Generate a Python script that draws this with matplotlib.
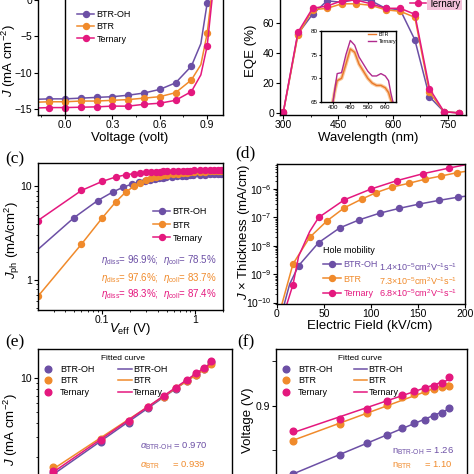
import numpy as np
import matplotlib
matplotlib.use('Agg')
import matplotlib.pyplot as plt
from matplotlib.lines import Line2D
from matplotlib.ticker import MultipleLocator, FuncFormatter, NullFormatter, LogLocator

plt.rcParams['font.family'] = ['Liberation Sans', 'DejaVu Sans']
plt.rcParams['mathtext.fontset'] = 'custom'
plt.rcParams['mathtext.rm'] = 'Liberation Sans'
plt.rcParams['mathtext.it'] = 'Liberation Sans:italic'
plt.rcParams['mathtext.bf'] = 'Liberation Sans:bold'
plt.rcParams['xtick.direction'] = 'out'
plt.rcParams['ytick.direction'] = 'out'
plt.rcParams['xtick.major.size'] = 2.6
plt.rcParams['ytick.major.size'] = 2.6
plt.rcParams['xtick.minor.size'] = 1.5
plt.rcParams['ytick.minor.size'] = 1.5
plt.rcParams['xtick.major.pad'] = 1.3
plt.rcParams['ytick.major.pad'] = 1.5
plt.rcParams['xtick.minor.pad'] = 1.3
plt.rcParams['axes.linewidth'] = 1.0

#------ Data ------#
names = ['BTR-OH', 'BTR', 'Ternary']
colors = ['#6C4FA5', '#F08A2B', '#E4187E']

# (a) J-V curves, markers every 0.1 V
v_mark = [-0.1, 0.0, 0.1, 0.2, 0.3, 0.4, 0.5, 0.6, 0.7, 0.8, 0.9]
j_btroh = [-13.6, -13.6, -13.5, -13.4, -13.3, -13.1, -12.8, -12.3, -11.4, -9.1, -0.4]
j_btr = [-14.0, -14.0, -13.9, -13.9, -13.8, -13.7, -13.5, -13.3, -12.75, -11.0, -4.6]
j_ter = [-14.8, -14.8, -14.75, -14.7, -14.6, -14.6, -14.35, -14.2, -13.8, -12.6, -6.3]
# extra points on the drawn curves (left edge, knee, exit at top)
v_line_ext = [-0.17, 0.86]
j_btroh_ext = [-13.65, -6.0]
j_btr_ext = [-14.05, -8.9]
j_ter_ext = [-14.85, -10.3]
v_top = [0.922, 0.935, 0.94]

# (b) EQE
wl = [300, 340, 380, 420, 460, 500, 540, 580, 620, 660, 700, 740, 780]
eqe_btroh = [0.5, 53, 66, 75, 74, 76, 75, 70, 69, 49, 11, 1, 0.3]
eqe_btr = [0.6, 52, 69, 70, 73, 73, 72, 69, 68, 64, 14, 1, 0.3]
eqe_ter = [0.7, 54, 70, 71.5, 75, 75.5, 73, 70, 70, 66, 16.5, 1, 0.3]
# inset (zoom of the plateau)
ins_wl_btr = [400, 410, 420, 440, 460, 480, 500, 520, 540, 560, 580, 600, 620, 640, 655, 665, 670]
ins_btr = [65, 67.5, 69.5, 70, 73, 76.2, 75.5, 73, 71.5, 70, 69, 68.5, 68.5, 68, 67, 65.5, 65]
ins_wl_ter = [401, 410, 420, 440, 460, 480, 500, 520, 540, 560, 580, 600, 620, 640, 655, 665, 675]
ins_ter = [65, 68, 71, 71.2, 75, 78, 77, 74.5, 73, 71.5, 70.5, 70.5, 71, 70.5, 69.5, 67, 65]

# (c) Jph vs Veff
veff_btroh = [0.0204, 0.05, 0.09, 0.13, 0.17, 0.21, 0.25, 0.29, 0.33, 0.37, 0.41, 0.45, 0.49,
              0.57, 0.65, 0.73, 0.81, 0.89, 0.97, 1.13, 1.29, 1.45, 1.61, 1.77, 1.93]
jph_btroh = [2.13, 4.65, 7.08, 8.7, 9.84, 10.6, 11.1, 11.5, 11.8, 12.0, 12.2, 12.35, 12.5,
             12.7, 12.85, 12.95, 13.05, 13.15, 13.2, 13.3, 13.4, 13.5, 13.55, 13.6, 13.7]
veff_btr = [0.0204, 0.06, 0.10, 0.14, 0.18, 0.22, 0.26, 0.30, 0.34, 0.38, 0.42, 0.46, 0.50,
            0.58, 0.66, 0.74, 0.82, 0.90, 0.98, 1.14, 1.30, 1.46, 1.62, 1.78, 1.94]
jph_btr = [0.673, 2.42, 4.58, 6.8, 8.7, 10.0, 11.0, 11.7, 12.2, 12.6, 12.9, 13.1, 13.3,
           13.55, 13.75, 13.9, 14.0, 14.1, 14.2, 14.3, 14.4, 14.5, 14.55, 14.6, 14.7]
veff_ter = veff_btr
jph_ter = [4.33, 9.06, 11.3, 12.6, 13.3, 13.7, 13.9, 14.1, 14.2, 14.3, 14.4, 14.45, 14.5,
           14.6, 14.65, 14.7, 14.75, 14.8, 14.85, 14.9, 14.95, 15.0, 15.05, 15.1, 15.15]
eta_texts = ['$\\eta_{\\rm diss}$= 96.9%;  $\\eta_{\\rm coll}$= 78.5%',
             '$\\eta_{\\rm diss}$= 97.6%;  $\\eta_{\\rm coll}$= 83.7%',
             '$\\eta_{\\rm diss}$= 98.3%;  $\\eta_{\\rm coll}$= 87.4%']

# (d) SCLC hole-only devices
ef_btroh = [7.8, 13.5, 23, 44.3, 66.7, 87.6, 109.2, 130, 150.7, 172, 192.5, 200]
jt_btroh = [9e-11, 4.5e-10, 2e-9, 1.3e-8, 4.3e-8, 8.3e-8, 1.42e-7, 2.1e-7, 2.95e-7, 4.0e-7, 5.2e-7, 5.6e-7]
mk_btroh = [2, 3, 4, 5, 6, 7, 8, 9, 10]
ef_btr = [5.3, 17, 34.8, 53.2, 71.6, 90.4, 105.7, 122.3, 140, 157.8, 174.5, 191.5, 200]
jt_btr = [9e-11, 2.3e-9, 2.0e-8, 7.6e-8, 2.2e-7, 4.5e-7, 7.6e-7, 1.18e-6, 1.6e-6, 2.25e-6, 2.9e-6, 3.8e-6, 4.2e-6]
mk_btr = [1, 2, 3, 4, 5, 6, 7, 8, 9, 10, 11]
ef_ter = [10.6, 17, 23, 34.8, 44.3, 71.6, 100.4, 127.7, 155.3, 182.6, 200]
jt_ter = [9e-11, 4.3e-10, 4.3e-9, 3.2e-8, 1e-7, 4.2e-7, 1.02e-6, 2e-6, 3.5e-6, 5.5e-6, 7.2e-6]
mk_ter = [1, 4, 5, 6, 7, 8, 9]
mobility = ['1.4×10$^{-5}$cm$^{2}$V$^{-1}$s$^{-1}$',
            '7.3×10$^{-5}$cm$^{2}$V$^{-1}$s$^{-1}$',
            '6.8×10$^{-5}$cm$^{2}$V$^{-1}$s$^{-1}$']

# (e), (f) light-intensity dependence
p_light = [10, 20, 30, 40, 50, 60, 70, 80, 90, 100]
jsc_btroh = [1.45, 2.75, 4.05, 5.45, 6.75, 8.05, 9.4, 10.7, 12.1, 13.7]
jsc_btr = [1.65, 2.9, 4.2, 5.55, 6.8, 8.1, 9.4, 10.7, 12.0, 13.4]
jsc_ter = [1.52, 2.85, 4.2, 5.6, 6.9, 8.2, 9.6, 11.0, 12.3, 14.0]
voc_btroh = [0.8233, 0.8439, 0.8579, 0.8673, 0.8748, 0.8805, 0.8842, 0.888, 0.8918, 0.8974]
voc_btr = [0.8597, 0.8793, 0.8918, 0.9003, 0.9098, 0.9135, 0.9161, 0.9188, 0.9207, 0.9226]
voc_ter = [0.8718, 0.8853, 0.8966, 0.9056, 0.9116, 0.9161, 0.9195, 0.9226, 0.9256, 0.932]
alpha_texts = ['$\\alpha_{\\rm BTR\\text{-}OH}$ = 0.970', '$\\alpha_{\\rm BTR}$     = 0.939']
n_texts = ['n$_{\\rm BTR\\text{-}OH}$ = 1.26', 'n$_{\\rm BTR}$     = 1.10']
#------------------#

W = H = 474
fig = plt.figure(figsize=(4.74, 4.74), dpi=100)

def px_axes(l, t, r, b):
    return fig.add_axes([l / W, 1 - b / H, (r - l) / W, (b - t) / H])

def px2ax(ax, px, py):
    pos = ax.get_position()
    return ((px / W - pos.x0) / pos.width, ((1 - py / H) - pos.y0) / pos.height)

def place_xlabel(ax, text, px, py, fs=9.5):
    ax.set_xlabel(text, fontsize=fs)
    ax.xaxis.set_label_coords(*px2ax(ax, px, py))
    ax.xaxis.label.set_va('center')

def place_ylabel(ax, text, px, py, fs=9.5):
    ax.set_ylabel(text, fontsize=fs)
    ax.yaxis.set_label_coords(*px2ax(ax, px, py))
    ax.yaxis.label.set_va('center')
    ax.yaxis.label.set_ha('center')

plain = FuncFormatter(lambda v, p: '%g' % v)
fs_tick = 7.5
fs_leg = 6.5
ms = 4.3

# (a) J-V
ax1 = px_axes(38, -10, 223, 115)
for jm, je, vt, c, nm in zip([j_btroh, j_btr, j_ter], [j_btroh_ext, j_btr_ext, j_ter_ext],
                             v_top, colors, names):
    vl = [v_line_ext[0]] + v_mark[:-1] + [v_line_ext[1], v_mark[-1], vt]
    jl = [je[0]] + jm[:-1] + [je[1], jm[-1], 2.0]
    ax1.plot(vl, jl, '-', color=c, lw=1.1)
    ax1.plot(v_mark, jm, 'o', color=c, ms=ms, mec=c)
ax1.axvline(0, color='black', lw=1.0)
ax1.set_xlim(-0.17, 1.0)
ax1.set_ylim(-15.82, 1.375)
ax1.xaxis.set_major_locator(MultipleLocator(0.3))
ax1.xaxis.set_minor_locator(MultipleLocator(0.15))
ax1.xaxis.set_major_formatter(FuncFormatter(lambda v, p: '%.1f' % v))
ax1.yaxis.set_major_locator(MultipleLocator(5))
ax1.tick_params(labelsize=fs_tick)
place_xlabel(ax1, 'Voltage (volt)', 130, 138)
place_ylabel(ax1, '$J$ (mA cm$^{-2}$)', 9, 61)
h1 = [Line2D([], [], color=c, marker='o', ms=ms, lw=1.1) for c in colors]
ax1.legend(h1, names, loc='center left', bbox_to_anchor=px2ax(ax1, 77, 27), frameon=False,
           fontsize=fs_leg, borderpad=0, borderaxespad=0, handlelength=1.9,
           handletextpad=0.25, labelspacing=0.35)

# (b) EQE
ax2 = px_axes(280, -10, 466, 115)
for e, c in zip([eqe_btroh, eqe_btr, eqe_ter], colors):
    ax2.plot(wl, e, '-o', color=c, ms=ms, lw=1.1)
ax2.set_xlim(291, 800)
ax2.set_ylim(-1.13, 82.2)
ax2.xaxis.set_major_locator(MultipleLocator(150))
ax2.xaxis.set_minor_locator(MultipleLocator(75))
ax2.yaxis.set_major_locator(MultipleLocator(20))
ax2.tick_params(labelsize=fs_tick)
place_xlabel(ax2, 'Wavelength (nm)', 368, 138)
place_ylabel(ax2, 'EQE (%)', 251, 51)
h2 = [Line2D([], [], color=c, marker='o', ms=ms, lw=1.1) for c in colors]
leg2 = ax2.legend(h2, names, loc='center left', bbox_to_anchor=px2ax(ax2, 410, -9.5),
                  frameon=False, fontsize=fs_leg + 0.5, borderpad=0, borderaxespad=0,
                  handlelength=1.6, handletextpad=0.3, labelspacing=0.35)
leg2.get_texts()[2].set_bbox(dict(facecolor='#F4C2DA', edgecolor='none', pad=1.0))

axin = px_axes(321, 31, 396, 102)
axin.plot(ins_wl_btr, ins_btr, color='#F9C89B', lw=2.6)
axin.plot(ins_wl_btr, ins_btr, color='#E9782A', lw=1.0, label='BTR')
axin.plot(ins_wl_ter, ins_ter, color='#B02A8E', lw=1.0, label='Ternary')
axin.set_xlim(346, 689)
axin.set_ylim(65, 80)
axin.set_xticks([400, 480, 560, 640])
axin.set_yticks([65, 70, 75, 80])
axin.tick_params(labelsize=4.5, length=1.5, pad=1)
axin.legend(loc='center left', bbox_to_anchor=px2ax(axin, 368, 38), frameon=False,
            fontsize=3.8, borderpad=0, borderaxespad=0, handlelength=1.6,
            handletextpad=0.4, labelspacing=0.3)

# (c) Jph vs Veff
ax3 = px_axes(38, 163, 223, 310)
ax3.set_xscale('log')
ax3.set_yscale('log')
ax3.plot(veff_btroh, jph_btroh, '-o', color=colors[0], ms=ms, lw=1.1, markevery=slice(1, None))
ax3.plot(veff_btr, jph_btr, '-o', color=colors[1], ms=ms, lw=1.1)
ax3.plot(veff_ter, jph_ter, '-o', color=colors[2], ms=ms, lw=1.1)
ax3.set_xlim(0.0204, 2.02)
ax3.set_ylim(0.48, 17.8)
for a in (ax3.xaxis, ax3.yaxis):
    a.set_major_formatter(plain)
    a.set_minor_formatter(NullFormatter())
ax3.tick_params(labelsize=fs_tick)
place_xlabel(ax3, '$V_{\\rm eff}$ (V)', 130, 329)
place_ylabel(ax3, '$J_{\\rm ph}$ (mA/cm$^2$)', 12, 240)
h3 = [Line2D([], [], color=c, marker='o', ms=ms, lw=1.1) for c in colors]
ax3.legend(h3, names, loc='center left', bbox_to_anchor=px2ax(ax3, 153, 225), frameon=False,
           fontsize=fs_leg, borderpad=0, borderaxespad=0, handlelength=1.9,
           handletextpad=0.25, labelspacing=0.45)
for txt, c, py in zip(eta_texts, colors, [260, 277.7, 294.3]):
    ax3.text(*px2ax(ax3, 217, py), txt, color=c, fontsize=7, ha='right', va='center',
             transform=ax3.transAxes)

# (d) SCLC
ax4 = px_axes(277, 164, 465, 304)
ax4.set_yscale('log')
for x, y, mk, c in zip([ef_btroh, ef_btr, ef_ter], [jt_btroh, jt_btr, jt_ter],
                       [mk_btroh, mk_btr, mk_ter], colors):
    ax4.plot(x, y, '-o', color=c, ms=ms, lw=1.1, markevery=mk)
ax4.set_xlim(0, 200)
ax4.set_ylim(8.9e-11, 7.7e-6)
ax4.xaxis.set_major_locator(MultipleLocator(50))
ax4.yaxis.set_major_locator(LogLocator(base=10, numticks=10))
ax4.yaxis.set_minor_formatter(NullFormatter())
ax4.tick_params(labelsize=fs_tick)
place_xlabel(ax4, 'Electric Field (kV/cm)', 370, 326)
place_ylabel(ax4, '$J$ × Thickness (mA/cm)', 243.5, 232)
h4 = [Line2D([], [], color=c, marker='o', ms=ms, lw=1.1) for c in colors]
leg4 = ax4.legend(h4, names, title='Hole mobility', loc='lower left',
                  bbox_to_anchor=px2ax(ax4, 323, 298), frameon=False, fontsize=fs_leg,
                  title_fontsize=fs_leg, borderpad=0, borderaxespad=0, handlelength=2.0,
                  handletextpad=0.25, labelspacing=0.6, alignment='left')
for t, c in zip(leg4.get_texts(), colors):
    t.set_color(c)
for txt, c, py in zip(mobility, colors, [267.3, 280.7, 293.3]):
    ax4.text(*px2ax(ax4, 378.7, py), txt, color=c, fontsize=fs_leg, ha='left', va='center',
             transform=ax4.transAxes)

# (e) Jsc vs light intensity
ax5 = px_axes(38, 349, 232, 505)
ax5.set_xscale('log')
ax5.set_yscale('log')
for y, c in zip([jsc_btroh, jsc_btr, jsc_ter], colors):
    ax5.plot(p_light, y, 'o', color=c, ms=ms + 0.5)
    fit = np.polyfit(np.log10(p_light), np.log10(y), 1)
    ax5.plot(p_light, 10 ** np.polyval(fit, np.log10(p_light)), '-', color=c, lw=1.1)
ax5.set_xlim(8.04, 135)
ax5.set_ylim(0.764, 18.0)
ax5.yaxis.set_major_formatter(plain)
ax5.yaxis.set_minor_formatter(NullFormatter())
ax5.tick_params(labelsize=fs_tick)
place_ylabel(ax5, '$J$ (mA cm$^{-2}$)', 11, 430)

# (f) Voc vs light intensity
ax6 = px_axes(276, 349, 467, 505)
ax6.set_xscale('log')
for y, c in zip([voc_btroh, voc_btr, voc_ter], colors):
    ax6.plot(p_light, y, 'o', color=c, ms=ms + 0.5)
    fit = np.polyfit(np.log10(p_light), y, 1)
    ax6.plot(p_light, np.polyval(fit, np.log10(p_light)), '-', color=c, lw=1.1)
ax6.set_xlim(7.81, 131)
ax6.set_ylim(0.788, 0.964)
ax6.yaxis.set_major_locator(MultipleLocator(0.1))
ax6.yaxis.set_minor_locator(MultipleLocator(0.05))
ax6.yaxis.set_major_formatter(plain)
ax6.tick_params(labelsize=fs_tick)
ax6.tick_params(axis='y', which='minor', length=2.6)
place_ylabel(ax6, 'Voltage (V)', 248, 420)

for ax, mx, lx, tx in [(ax5, 43.8, 118, 123), (ax6, 281.8, 353.7, 360.3)]:
    hm = [Line2D([], [], color=c, marker='o', ls='none', ms=ms + 0.5) for c in colors]
    hl = [Line2D([], [], color=c, lw=1.1) for c in colors]
    lg1 = ax.legend(hm, names, loc='center left', bbox_to_anchor=px2ax(ax, mx, 381),
                    frameon=False, fontsize=fs_leg, borderpad=0, borderaxespad=0,
                    handlelength=1.0, handletextpad=0.8, labelspacing=0.3)
    ax.add_artist(lg1)
    ax.legend(hl, names, loc='center left', bbox_to_anchor=px2ax(ax, lx, 381),
              frameon=False, fontsize=fs_leg, borderpad=0, borderaxespad=0,
              handlelength=1.5, handletextpad=0.15, labelspacing=0.3)
    ax.text(*px2ax(ax, tx, 359), 'Fitted curve', fontsize=fs_leg - 0.5, ha='center',
            va='center', transform=ax.transAxes)

for txt, c, py in zip(alpha_texts, colors[:2], [446.7, 465]):
    ax5.text(*px2ax(ax5, 140, py), txt, color=c, fontsize=fs_leg + 0.3, ha='left', va='center',
             transform=ax5.transAxes)
for txt, c, py in zip(n_texts, colors[:2], [451.7, 465]):
    ax6.text(*px2ax(ax6, 392, py), txt, color=c, fontsize=fs_leg + 0.3, ha='left', va='center',
             transform=ax6.transAxes)

# panel letters
for lab, px, py in [('(c)', 15, 159), ('(d)', 245, 153), ('(e)', 15, 342), ('(f)', 246, 342)]:
    fig.text(px / W, 1 - py / H, lab, fontsize=12.5, family='Liberation Serif',
             ha='center', va='center')

fig.savefig('out.png', dpi=100)
